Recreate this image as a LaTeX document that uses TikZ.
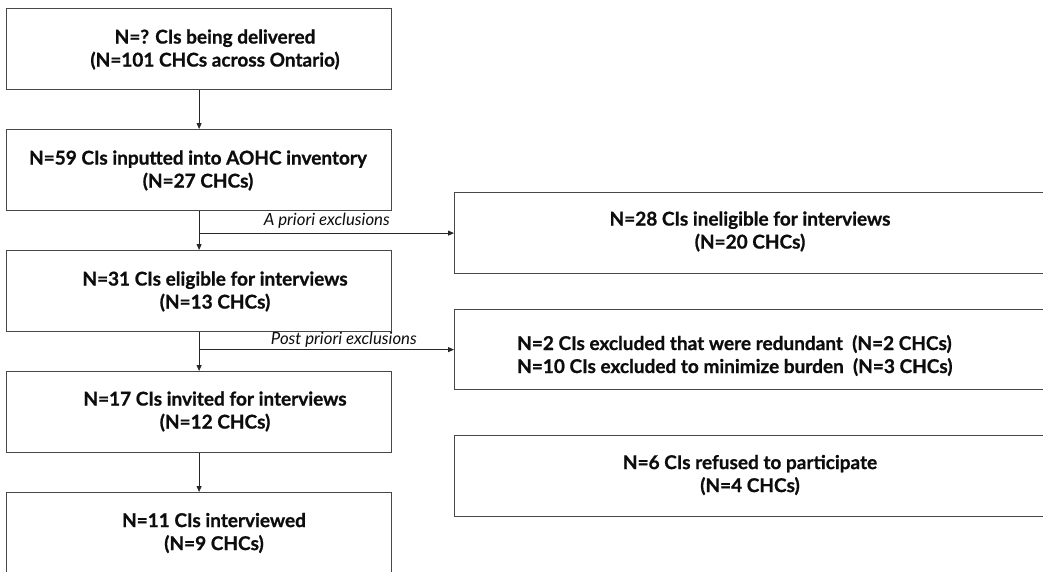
\documentclass[tikz,border=0pt]{standalone}
\usepackage{fontspec}
\setmainfont{Lato}[BoldFeatures={FakeBold=0.9}]
\usetikzlibrary{arrows.meta}
\begin{document}
\begin{tikzpicture}[x=1pt,y=-1pt,
  mainbox/.style={draw=black!72, line width=1.2pt, minimum width=385pt, minimum height=81pt, inner sep=0pt, anchor=north west},
  sidebox/.style={draw=black!72, line width=1.2pt, minimum width=592pt, minimum height=81pt, inner sep=0pt, anchor=north west},
  txt/.style={align=center, inner sep=0pt, text=black!95, font=\fontsize{19}{23}\selectfont\bfseries},
  ltxt/.style={inner sep=0pt, anchor=base west, text=black!95, font=\fontsize{19}{23}\selectfont\bfseries},
  lbl/.style={inner sep=0pt, anchor=base east, text=black!95, font=\fontsize{16.8}{20}\selectfont\itshape},
  arr/.style={-{Triangle[length=6pt,width=5pt]}, line width=0.8pt, draw=black!85}]
\useasboundingbox (0,0) rectangle (1043,571);
\clip (0,0) rectangle (1043,571);
% main column boxes
\node[mainbox] (b1) at (6,8) {};
\node[mainbox] (b2) at (6,129) {};
\node[mainbox] (b3) at (6,250) {};
\node[mainbox] (b4) at (6,371) {};
\node[mainbox] (b5) at (6,492) {};
% side boxes
\node[sidebox] (rb1) at (454,192) {};
\node[sidebox, minimum height=80pt] (rb2) at (454,309) {};
\node[sidebox] (rb3) at (454,435) {};
% texts
\node[txt] (t1) at (215,49.5) {N=? CIs being delivered\\(N=101 CHCs across Ontario)};
\node[txt] (t2) at (198,170.5) {N=59 CIs inputted into AOHC inventory\\(N=27 CHCs)};
\node[txt] (t3) at (215,291.5) {N=31 CIs eligible for interviews\\(N=13 CHCs)};
\node[txt] (t4) at (215,411.5) {N=17 CIs invited for interviews\\(N=12 CHCs)};
\node[txt] (t5) at (214,533) {N=11 CIs interviewed\\(N=9 CHCs)};
\node[txt] (r1) at (750,231.5) {N=28 CIs ineligible for interviews\\(N=20 CHCs)};
\node[ltxt] (r2a) at (517,350) {N=2 CIs excluded that were redundant\ \ (N=2 CHCs)};
\node[ltxt] (r2b) at (517,373) {N=10 CIs excluded to minimize burden\ \ (N=3 CHCs)};
\node[txt] (r3) at (750,475) {N=6 CIs refused to participate\\(N=4 CHCs)};
% connectors
\draw[arr] (b1.south) -- (b2.north);
\draw[arr] (b2.south) -- (b3.north);
\draw[arr] (b2.south |- rb1.west) -- (rb1.west);
\draw[arr] (b3.south) -- (b4.north);
\draw[arr] (b3.south |- rb2.west) -- (rb2.west);
\draw[arr] (b4.south) -- (b5.north);
% labels
\node[lbl] (la) at (390,225) {A priori exclusions};
\node[lbl] (lp) at (417,344) {Post priori exclusions};
\end{tikzpicture}
\end{document}
